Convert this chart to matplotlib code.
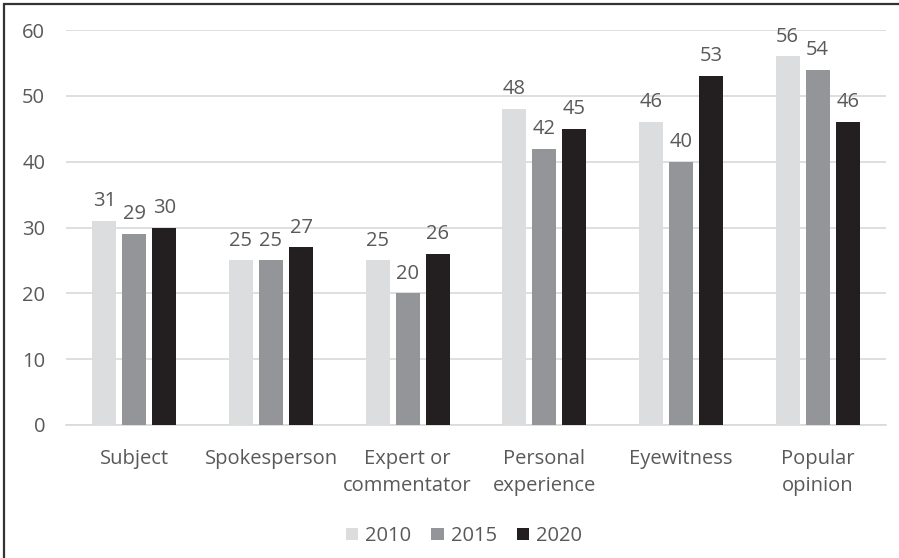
import matplotlib
matplotlib.use("Agg")
import matplotlib.pyplot as plt
from matplotlib.patches import Rectangle
import numpy as np

plt.rcParams['font.family'] = ['Open Sans', 'DejaVu Sans']

categories = ["Subject", "Spokesperson", "Expert or\ncommentator",
              "Personal\nexperience", "Eyewitness", "Popular\nopinion"]
series_names = ["2010", "2015", "2020"]
values_2010 = [31, 25, 25, 48, 46, 56]
values_2015 = [29, 25, 20, 42, 40, 54]
values_2020 = [30, 27, 26, 45, 53, 46]
y_ticks = [0, 10, 20, 30, 40, 50, 60]

colors = ["#DCDDDF", "#939598", "#231F20"]
text_color = "#595959"
grid_color = "#D9D9D9"
fs = 14.5

fig = plt.figure(figsize=(8.99, 5.58), dpi=100)
ax = fig.add_axes([66 / 899, 1 - 425 / 558, 820 / 899, 395 / 558])

x = np.arange(len(categories))
width = 0.176
step = 0.22
all_series = [values_2010, values_2015, values_2020]
for i, (name, vals) in enumerate(zip(series_names, all_series)):
    pos = x + (i - 1) * step
    bars = ax.bar(pos, vals, width=width, color=colors[i], label=name, zorder=3)
    for b, v in zip(bars, vals):
        ax.annotate(str(v), (b.get_x() + b.get_width() / 2, v),
                    xytext=(0, 7), textcoords="offset points",
                    ha="center", va="bottom", fontsize=fs, color=text_color)

ax.set_xlim(-0.5, len(categories) - 0.5)
ax.set_ylim(0, 60)
ax.set_yticks(y_ticks)
ax.yaxis.grid(True, color=grid_color, linewidth=1.2, zorder=0)
ax.set_axisbelow(True)
for s in ["top", "right", "left"]:
    ax.spines[s].set_visible(False)
ax.spines["bottom"].set_color(grid_color)
ax.spines["bottom"].set_linewidth(1.2)
ax.tick_params(axis="both", length=0, labelsize=fs, labelcolor=text_color)
ax.tick_params(axis="y", pad=15)
ax.tick_params(axis="x", pad=17)
ax.set_xticks(x)
ax.set_xticklabels(categories, linespacing=1.5)

leg = fig.legend(loc="center", bbox_to_anchor=(464 / 899, 1 - 536 / 558), ncol=3,
                 frameon=False, fontsize=fs, handlelength=0.6, handleheight=0.6,
                 handletextpad=0.35, columnspacing=1.0)
for t in leg.get_texts():
    t.set_color(text_color)

# frame around the figure (left and top edges visible)
fig.patches.append(Rectangle((4 / 899, -10 / 558), 910 / 899, 564 / 558,
                             transform=fig.transFigure, fill=False,
                             edgecolor="#333333", linewidth=1.6, clip_on=False))

fig.savefig("out.png", dpi=100, facecolor="white")
